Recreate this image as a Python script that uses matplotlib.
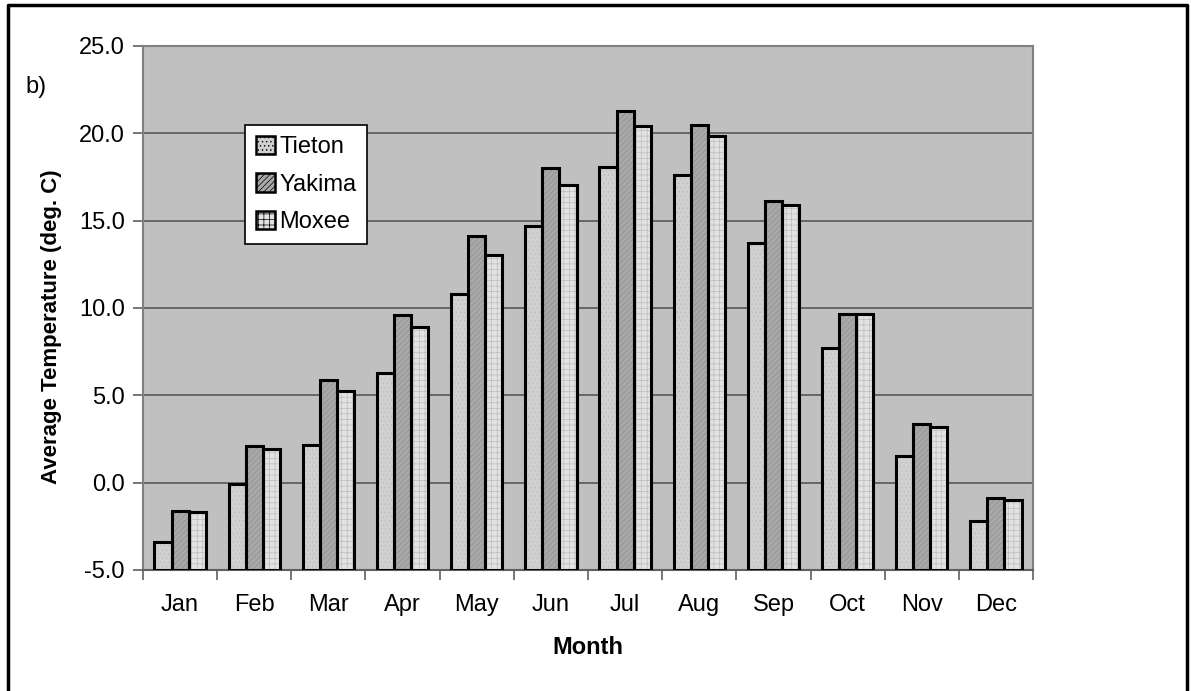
import matplotlib
matplotlib.use("Agg")
import matplotlib.pyplot as plt
import numpy as np
from matplotlib.lines import Line2D

months = ["Jan", "Feb", "Mar", "Apr", "May", "Jun", "Jul", "Aug", "Sep", "Oct", "Nov", "Dec"]
tieton = [-3.4, -0.1, 2.15, 6.3, 10.8, 14.7, 18.1, 17.6, 13.7, 7.7, 1.55, -2.2]
yakima = [-1.6, 2.1, 5.9, 9.6, 14.1, 18.0, 21.3, 20.5, 16.1, 9.65, 3.35, -0.85]
moxee = [-1.7, 1.9, 5.25, 8.9, 13.05, 17.05, 20.4, 19.85, 15.9, 9.65, 3.2, -1.0]
series_names = ["Tieton", "Yakima", "Moxee"]
yticks = [-5.0, 0.0, 5.0, 10.0, 15.0, 20.0, 25.0]
ymin, ymax = -5.0, 25.0

plt.rcParams['font.family'] = ['Liberation Sans', 'DejaVu Sans']
plt.rcParams['hatch.linewidth'] = 0.5

FS = 17

fig = plt.figure(figsize=(11.91, 6.91), dpi=100)
ax = fig.add_axes([143/1191, 1-570/691, (1033-143)/1191, (570-46)/691])
ax.set_facecolor('#c0c0c0')

x = np.arange(len(months))
w = 0.23
styles = [
    dict(facecolor='#d0d0d0', hatch='....', hcolor='#bdbdbd'),
    dict(facecolor='#a8a8a8', hatch='//////', hcolor='#909090'),
    dict(facecolor='#e2e2e2', hatch='+++', hcolor='#bcbcbc'),
]
handles = []
for i, (vals, st) in enumerate(zip([tieton, yakima, moxee], styles)):
    heights = [v - ymin for v in vals]
    bars = ax.bar(x + (i - 1) * w, heights, width=w, bottom=ymin, facecolor=st['facecolor'],
                  edgecolor=st['hcolor'], hatch=st['hatch'], linewidth=0, zorder=3)
    ax.bar(x + (i - 1) * w, heights, width=w, bottom=ymin, fill=False, edgecolor='black',
           linewidth=2.2, zorder=4)
    handles.append(bars)

ax.set_ylim(ymin, ymax)
ax.set_xlim(-0.5, 11.5)
ax.set_yticks(yticks)
ax.set_yticklabels([f"{v:.1f}" for v in yticks], fontsize=FS)
ax.yaxis.grid(True, color='#606060', linewidth=1.3, zorder=1)
ax.set_axisbelow(True)

ax.set_xticks(x)
ax.set_xticklabels(months, fontsize=FS)
ax.tick_params(axis='x', length=0, pad=17)
ax.set_xticks(np.arange(-0.5, 12, 1), minor=True)
ax.tick_params(axis='x', which='minor', length=7, color='#606060', width=1.2, direction='out')
ax.tick_params(axis='y', length=7, color='#606060', width=1.2, direction='out', pad=6)

for s in ax.spines.values():
    s.set_color('#808080')
    s.set_linewidth(1.5)
ax.spines['bottom'].set_color('#606060')

fig.text(52/1191, 1-327/691, "Average Temperature (deg. C)", fontsize=16, fontweight='bold',
         rotation=90, ha='center', va='center')
fig.text(588/1191, 1-648/691, "Month", fontsize=FS, fontweight='bold', ha='center', va='center')

leg = ax.legend(handles, series_names, loc='upper left', bbox_to_anchor=((245-143)/890, (570-125)/524),
                fontsize=FS, frameon=True, fancybox=False, framealpha=1, edgecolor='black',
                handlelength=0.8, handleheight=0.8, handletextpad=0.2, borderpad=0.45, labelspacing=0.66,
                borderaxespad=0)
leg.get_frame().set_linewidth(1.2)
for p in leg.get_patches():
    p.set_edgecolor('black')
    p.set_linewidth(1.8)

fig.text(25/1191, 1-87/691, "b)", fontsize=FS, va='center', ha='left')

# outer border
fig.add_artist(Line2D([8/1191, 8/1191, 1187/1191, 1187/1191],
                      [-0.01, 1-5/691, 1-5/691, -0.01], color='black', linewidth=2.5,
                      transform=fig.transFigure))

fig.savefig("out.png", dpi=100)
